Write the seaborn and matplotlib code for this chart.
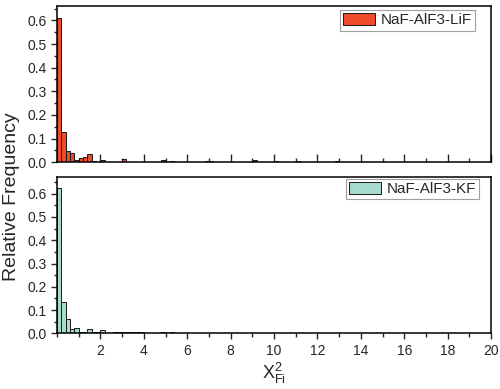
import numpy as np
import pandas as pd
import matplotlib
matplotlib.use('Agg')
import matplotlib.pyplot as plt
from matplotlib.ticker import MultipleLocator, FormatStrFormatter
import seaborn as sns

# bin left edges (width 0.2) and relative frequencies
bin_width = 0.2
lif_bins = [0.0, 0.2, 0.4, 0.6, 0.8, 1.0, 1.2, 1.4, 1.6, 2.0, 2.2, 3.0, 3.2, 3.6, 3.8,
            4.6, 4.8, 5.2, 6.8, 7.0, 7.6, 7.8, 9.0, 9.2, 9.6, 10.0, 11.0, 12.8, 15.2]
lif_freq = [0.61, 0.127, 0.047, 0.038, 0.010, 0.016, 0.021, 0.033, 0.004, 0.010, 0.003,
            0.012, 0.003, 0.003, 0.003, 0.003, 0.008, 0.004, 0.004, 0.005, 0.003, 0.003,
            0.008, 0.003, 0.002, 0.004, 0.005, 0.006, 0.003]

kf_bins = [0.0, 0.2, 0.4, 0.6, 0.8, 1.0, 1.2, 1.4, 1.6, 1.8, 2.0, 2.6, 2.8, 3.0, 3.2,
           3.4, 3.6, 3.8, 4.8, 5.2, 7.8, 8.0, 8.4, 8.8, 9.0, 9.2, 10.0, 12.4]
kf_freq = [0.625, 0.133, 0.061, 0.017, 0.021, 0.007, 0.007, 0.017, 0.007, 0.008, 0.013,
           0.004, 0.006, 0.004, 0.004, 0.004, 0.008, 0.004, 0.004, 0.004, 0.003, 0.002,
           0.003, 0.003, 0.003, 0.002, 0.003, 0.003]

labels = ['NaF-AlF3-LiF', 'NaF-AlF3-KF']
colors = ['#EE4B2B', '#A6DACD']

sns.set_style('ticks')
plt.rcParams['font.family'] = ['Liberation Sans', 'DejaVu Sans']
plt.rcParams['mathtext.fontset'] = 'custom'
plt.rcParams['mathtext.rm'] = 'Liberation Sans'
plt.rcParams['mathtext.it'] = 'Liberation Sans'

fig = plt.figure(figsize=(5, 3.89), dpi=100)
ax1 = fig.add_axes([0.114, 0.583, 0.868, 0.401])
ax2 = fig.add_axes([0.114, 0.143, 0.868, 0.401])

series = [(ax1, lif_bins, lif_freq, 0.66, (0.963, 0.974)),
          (ax2, kf_bins, kf_freq, 0.67, (0.973, 0.99))]
for i, (ax, b, f, ytop, anchor) in enumerate(series):
    df = pd.DataFrame({'center': np.array(b) + bin_width / 2, 'freq': f})
    sns.histplot(data=df, x='center', weights='freq', binwidth=bin_width, binrange=(0, 20),
                 ax=ax, color=colors[i], edgecolor='#1a1a1a', linewidth=0.7, alpha=1,
                 label=labels[i])
    ax.set_xlim(0, 20)
    ax.set_ylim(0, ytop)
    ax.set_ylabel('')
    ax.set_xlabel('')
    ax.xaxis.set_major_locator(MultipleLocator(2))
    ax.xaxis.set_minor_locator(MultipleLocator(1))
    ax.yaxis.set_major_locator(MultipleLocator(0.1))
    ax.yaxis.set_minor_locator(MultipleLocator(0.05))
    ax.yaxis.set_major_formatter(FormatStrFormatter('%.1f'))
    ax.tick_params(axis='y', which='major', direction='out', length=4, width=1, labelsize=10)
    ax.tick_params(axis='y', which='minor', direction='out', length=2, width=1)
    for s in ax.spines.values():
        s.set_visible(True)
        s.set_linewidth(1.1)
        s.set_color('black')
    leg = ax.legend(loc='upper right', bbox_to_anchor=anchor, borderaxespad=0,
                    fontsize=11, frameon=True, fancybox=False, edgecolor='#888888',
                    handlelength=2.1, handleheight=0.8, borderpad=0.2, handletextpad=0.4)
    leg.get_frame().set_linewidth(0.8)

ax1.tick_params(axis='x', which='major', direction='in', length=6, width=1, labelbottom=False)
ax1.tick_params(axis='x', which='minor', direction='in', length=3, width=1)
ax2.tick_params(axis='x', which='major', direction='out', length=4, width=1, labelsize=10)
ax2.tick_params(axis='x', which='minor', direction='out', length=3, width=1)
ax2.set_xticks(np.arange(2, 21, 2))
ax2.set_xlabel(r'X$^{2}_{\mathrm{Fi}}$', fontsize=13, labelpad=2)

fig.text(0.024, 0.494, 'Relative Frequency', rotation=90, va='center', ha='center', fontsize=14)

fig.savefig('out.png', dpi=100, facecolor='white')
